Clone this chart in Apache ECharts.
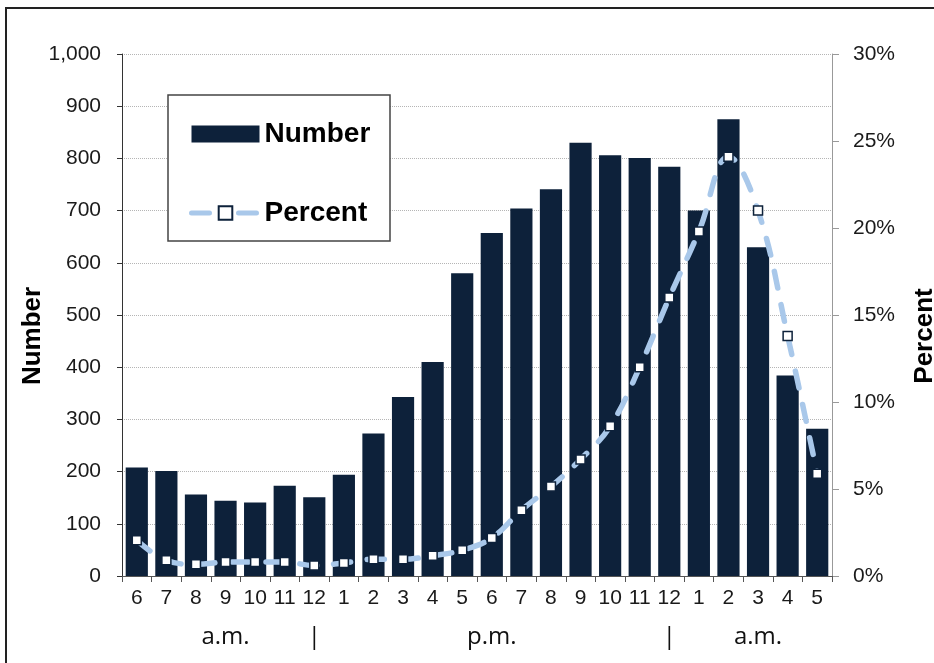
<!DOCTYPE html>
<html>
<head>
<meta charset="utf-8">
<script src="https://cdn.jsdelivr.net/npm/echarts@6/dist/echarts.min.js"></script>
<style>
  html, body { margin: 0; padding: 0; background: #fff; }
  #chart { width: 934px; height: 663px; }
</style>
</head>
<body>
<div id="chart"></div>
<script>
// Hour of day, starting at 6 a.m. and running through 5 a.m. the next day
const hours = ['6', '7', '8', '9', '10', '11', '12', '1', '2', '3', '4', '5',
               '6', '7', '8', '9', '10', '11', '12', '1', '2', '3', '4', '5'];

// Count per hour (left axis)
const numberValues = [208, 201, 156, 144, 141, 173, 151, 194, 273, 343, 410, 580,
                      657, 704, 741, 830, 806, 801, 784, 700, 875, 630, 384, 282];

// Percent per hour (right axis)
const percentValues = [2.05, 0.9, 0.67, 0.8, 0.8, 0.8, 0.6, 0.75, 0.96, 0.96, 1.17, 1.48,
                       2.19, 3.78, 5.14, 6.7, 8.6, 12.0, 16.0, 19.8, 24.1, 21.0, 13.8, 5.87];

// Axis scales
const numberAxisMax = 1000;
const numberAxisStep = 100;
const percentAxisMax = 30;
const percentAxisStep = 5;

// Period markers printed under the hour labels
const periodTexts = ['a.m.', '|', 'p.m.', '|', 'a.m.'];

const NAVY = '#0d213a';
const LIGHT_BLUE = '#a9c8ea';
const FONT = '"Liberation Sans", Arial, sans-serif';

const chart = echarts.init(document.getElementById('chart'), null, { renderer: 'canvas' });

const option = {
  animation: false,
  backgroundColor: '#ffffff',
  textStyle: { fontFamily: FONT },
  grid: { left: 122, right: 102, top: 54, bottom: 87, containLabel: false, outerBoundsMode: 'none' },
  legend: {
    orient: 'vertical',
    left: 189,
    top: 119,
    padding: 0,
    itemGap: 49,
    itemWidth: 68,
    itemHeight: 17,
    itemTextGap: 8,
    selectedMode: false,
    textStyle: { fontFamily: FONT, fontWeight: 'bold', fontSize: 28, color: '#000', lineHeight: 30 },
    data: [
      { name: 'Number', icon: 'rect' },
      { name: 'Percent', lineStyle: { type: [18, 29], width: 5, cap: 'round', color: LIGHT_BLUE } }
    ],
    z: 5
  },
  xAxis: {
    type: 'category',
    data: hours,
    boundaryGap: true,
    axisLine: { show: true, lineStyle: { color: '#555', width: 1 } },
    axisTick: { show: true, length: 6, lineStyle: { color: '#555' } },
    axisLabel: { fontSize: 21, color: '#1a1a1a', margin: 12, interval: 0 },
    splitLine: { show: false }
  },
  yAxis: [
    {
      type: 'value',
      position: 'left',
      min: 0,
      max: numberAxisMax,
      interval: numberAxisStep,
      name: 'Number',
      nameLocation: 'middle',
      nameGap: 76,
      nameMoveOverlap: false,
      nameTextStyle: { fontFamily: FONT, fontWeight: 'bold', fontSize: 26, color: '#000', padding: [0, 42, 0, 0] },
      axisLine: { show: true, lineStyle: { color: '#333', width: 1 } },
      axisTick: { show: true, length: 5, lineStyle: { color: '#333' } },
      axisLabel: {
        fontSize: 21, color: '#1a1a1a', margin: 21,
        formatter: v => v.toLocaleString('en-US')
      },
      splitLine: { show: true, lineStyle: { color: '#b5b5b5', type: 'dotted', width: 1 } }
    },
    {
      type: 'value',
      position: 'right',
      min: 0,
      max: percentAxisMax,
      interval: percentAxisStep,
      name: 'Percent',
      nameLocation: 'middle',
      nameGap: 80,
      nameMoveOverlap: false,
      nameTextStyle: { fontFamily: FONT, fontWeight: 'bold', fontSize: 26, color: '#000', padding: [0, 42, 0, 0] },
      axisLine: { show: true, lineStyle: { color: '#999', width: 1 } },
      axisTick: { show: true, length: 7, lineStyle: { color: '#999' } },
      axisLabel: { fontSize: 21, color: '#1a1a1a', margin: 21, formatter: '{value}%' },
      splitLine: { show: false }
    }
  ],
  series: [
    {
      name: 'Number',
      type: 'bar',
      yAxisIndex: 0,
      data: numberValues,
      barWidth: '75%',
      itemStyle: { color: NAVY },
      z: 2
    },
    {
      name: 'Percent',
      type: 'line',
      yAxisIndex: 1,
      data: percentValues,
      smooth: 0.4,
      symbol: 'rect',
      symbolSize: 9,
      itemStyle: { color: '#ffffff', borderColor: NAVY, borderWidth: 1.5 },
      lineStyle: { color: LIGHT_BLUE, width: 5.5, type: [17, 17], cap: 'round' },
      z: 3
    }
  ],
  graphic: [
    // frame around the whole figure
    {
      type: 'rect', id: 'frame', silent: true, z: 10,
      shape: { x: 6, y: 8, width: 960, height: 700 },
      style: { fill: 'none', stroke: '#222', lineWidth: 2 }
    },
    // box behind the legend
    {
      type: 'rect', id: 'legendBox', silent: true, z: 4,
      shape: { x: 168, y: 95, width: 222, height: 146 },
      style: { fill: '#ffffff', stroke: '#444', lineWidth: 1.5 }
    }
  ]
};

chart.setOption(option);

// Period labels under the hour axis, anchored to category positions
const periodAnchors = [3.35, 6, 11.95, 18.45, 20.9];
const baseY = chart.convertToPixel({ yAxisIndex: 0 }, 0);
const periodGraphics = periodTexts.map((t, k) => ({
  type: 'text',
  id: 'period' + k,
  silent: true,
  z: 5,
  x: chart.convertToPixel({ xAxisIndex: 0 }, periodAnchors[k]),
  y: baseY + 61,
  style: {
    text: t,
    fontFamily: '"Open Sans", sans-serif',
    fontSize: 24,
    fill: '#111',
    align: 'center',
    verticalAlign: 'middle'
  }
}));
chart.setOption({ graphic: periodGraphics });
</script>
</body>
</html>
